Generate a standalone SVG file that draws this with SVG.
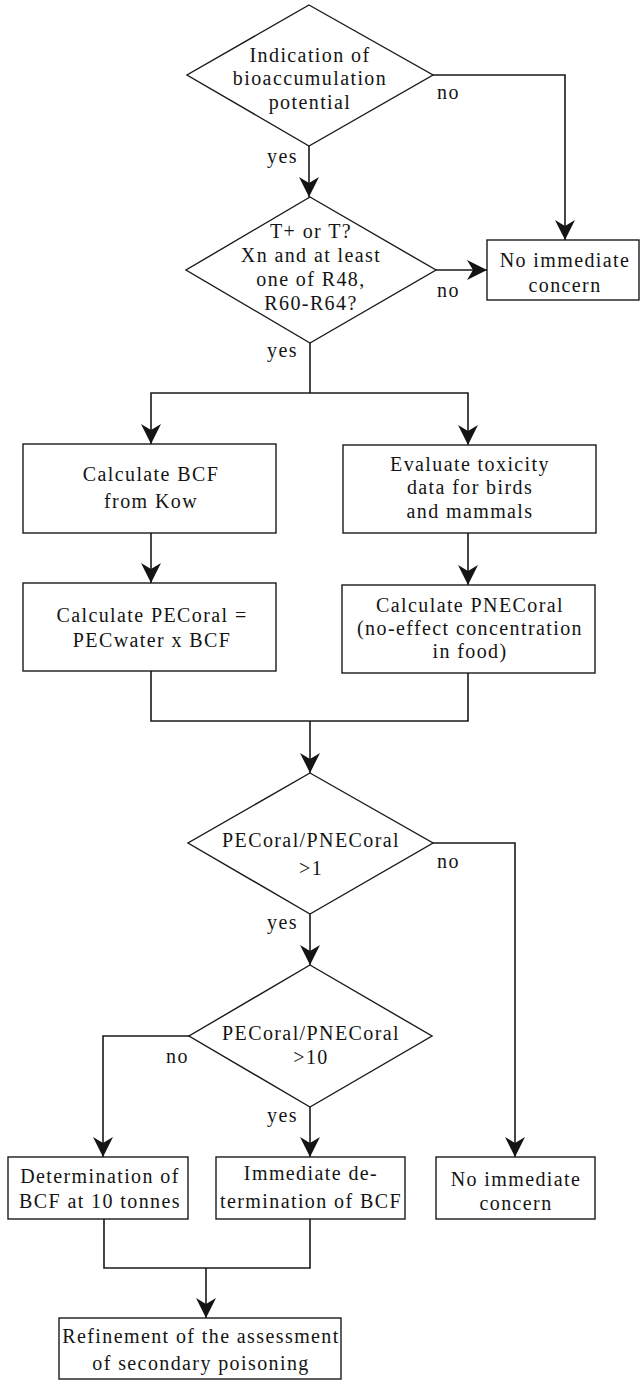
<svg xmlns="http://www.w3.org/2000/svg" width="640" height="1380" viewBox="0 0 640 1380">
<style>
text{font-family:"Liberation Serif","Times New Roman",serif;font-size:20px;letter-spacing:1.4px;fill:#141414}
.c{text-anchor:middle}
.shape{fill:#fff;stroke:#1a1a1a;stroke-width:1.4}
.line{fill:none;stroke:#1a1a1a;stroke-width:1.6}
.arr{marker-end:url(#ah)}
</style>
<defs>
<marker id="ah" viewBox="0 0 20 20" refX="20" refY="10" markerWidth="20" markerHeight="20" markerUnits="userSpaceOnUse" orient="auto">
<path d="M0,0 L20,10 L0,20 L6,10 Z" fill="#141414"/>
</marker>
</defs>
<rect width="640" height="1380" fill="#fff"/>
<g id="connectors">
<path class="line arr" d="M309,146 V197"/>
<path class="line arr" d="M433,75 H565 V240"/>
<path class="line arr" d="M436,270 H487"/>
<path class="line" d="M310,343 V393"/>
<path class="line arr" d="M310,393 H151 V444"/>
<path class="line arr" d="M310,393 H468 V445"/>
<path class="line arr" d="M151,533 V583"/>
<path class="line arr" d="M468,533 V585"/>
<path class="line" d="M151,671 V721 H468 V673"/>
<path class="line arr" d="M310,721 V773"/>
<path class="line arr" d="M433,843 H515 V1157"/>
<path class="line arr" d="M310,914 V965"/>
<path class="line arr" d="M189,1036 H103 V1157"/>
<path class="line arr" d="M310,1107 V1157"/>
<path class="line" d="M104,1219 V1268 H310 V1219"/>
<path class="line arr" d="M206,1268 V1318"/>
<text x="437" y="99">no</text>
<text x="267" y="163">yes</text>
<text x="437" y="297">no</text>
<text x="267" y="357">yes</text>
<text x="437" y="868">no</text>
<text x="267" y="929">yes</text>
<text x="166" y="1063">no</text>
<text x="267" y="1122">yes</text>
</g>
<g id="d1">
<polygon class="shape" points="309,5 433,75 309,146 187,75"/>
<text class="c" x="310" y="62">Indication of</text>
<text class="c" x="310" y="85">bioaccumulation</text>
<text class="c" x="310" y="109">potential</text>
</g>
<g id="d2">
<polygon class="shape" points="310,197 436,270 310,343 186,270"/>
<text class="c" x="311" y="238">T+ or T?</text>
<text class="c" x="311" y="262">Xn and at least</text>
<text class="c" x="311" y="286">one of R48,</text>
<text class="c" x="311" y="310">R60-R64?</text>
</g>
<g id="nic1">
<rect class="shape" x="487" y="240" width="152" height="60"/>
<text class="c" x="565" y="267">No immediate</text>
<text class="c" x="565" y="292">concern</text>
</g>
<g id="bcf">
<rect class="shape" x="23" y="444" width="253" height="89"/>
<text class="c" x="151" y="481">Calculate BCF</text>
<text class="c" x="151" y="508">from Kow</text>
</g>
<g id="tox">
<rect class="shape" x="343" y="445" width="253" height="88"/>
<text class="c" x="470" y="471">Evaluate toxicity</text>
<text class="c" x="470" y="494">data for birds</text>
<text class="c" x="470" y="518">and mammals</text>
</g>
<g id="pec">
<rect class="shape" x="23" y="583" width="253" height="88"/>
<text class="c" x="152" y="622">Calculate PECoral =</text>
<text class="c" x="152" y="647">PECwater x BCF</text>
</g>
<g id="pnec">
<rect class="shape" x="342" y="585" width="253" height="88"/>
<text class="c" x="470" y="612">Calculate PNECoral</text>
<text class="c" x="470" y="635">(no-effect concentration</text>
<text class="c" x="470" y="658">in food)</text>
</g>
<g id="d3">
<polygon class="shape" points="310,773 433,843 310,914 188,843"/>
<text class="c" x="311" y="847">PECoral/PNECoral</text>
<text class="c" x="311" y="875">&gt;1</text>
</g>
<g id="d4">
<polygon class="shape" points="310,965 432,1036 310,1107 189,1036"/>
<text class="c" x="311" y="1040">PECoral/PNECoral</text>
<text class="c" x="311" y="1064">&gt;10</text>
</g>
<g id="det10">
<rect class="shape" x="8" y="1157" width="180" height="62"/>
<text class="c" x="100" y="1183">Determination of</text>
<text class="c" x="100" y="1208">BCF at 10 tonnes</text>
</g>
<g id="immed">
<rect class="shape" x="216" y="1157" width="189" height="62"/>
<text class="c" x="311" y="1180">Immediate de-</text>
<text class="c" x="311" y="1208">termination of BCF</text>
</g>
<g id="nic2">
<rect class="shape" x="436" y="1157" width="159" height="62"/>
<text class="c" x="516" y="1186">No immediate</text>
<text class="c" x="516" y="1210">concern</text>
</g>
<g id="refine">
<rect class="shape" x="59" y="1318" width="282" height="61"/>
<text class="c" x="201" y="1343">Refinement of the assessment</text>
<text class="c" x="201" y="1370">of secondary poisoning</text>
</g>
</svg>
